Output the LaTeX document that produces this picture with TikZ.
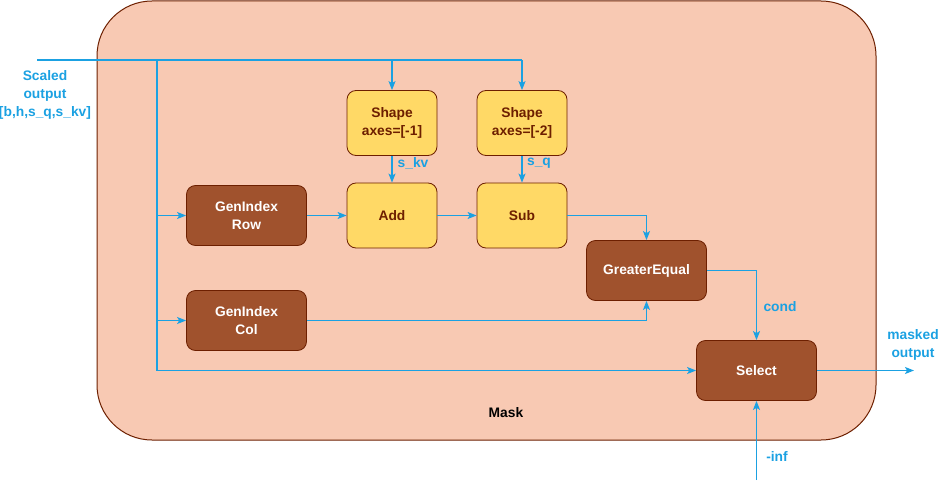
\documentclass[tikz,border=0pt]{standalone}
\usepackage{fontspec}
\setmainfont{Liberation Sans}
\usetikzlibrary{arrows.meta}
\definecolor{cont}{HTML}{F8C9B3}
\definecolor{contline}{HTML}{6D1F00}
\definecolor{brownbox}{HTML}{A0522D}
\definecolor{yelbox}{HTML}{FFD966}
\definecolor{wire}{HTML}{1BA1E2}
\tikzset{
  brownnode/.style={draw=contline, fill=brownbox, rounded corners=9pt, minimum width=120pt, minimum height=60pt, text=white, font=\fontsize{13.8}{17.5}\selectfont\bfseries, align=center, line width=0.8pt},
  yelnode/.style={draw=contline, fill=yelbox, rounded corners=9pt, minimum width=90pt, minimum height=65pt, text=contline, font=\fontsize{13.8}{17.5}\selectfont\bfseries, align=center, line width=0.8pt},
  wirestyle/.style={draw=wire, line width=1.1pt, -{Stealth[length=9pt,width=7pt,inset=2pt]}},
  plainwire/.style={draw=wire, line width=1.1pt},
  lbl/.style={text=wire, font=\fontsize{13.8}{18}\selectfont\bfseries, align=center},
}
\begin{document}
\begin{tikzpicture}[x=1pt,y=-1pt]
\useasboundingbox (0,0) rectangle (947,489);
\node[draw=contline, fill=cont, rounded corners=55pt, minimum width=779pt, minimum height=439pt, line width=1pt] (mask) at (486.5,220.5) {};
\node[font=\fontsize{13.8}{17}\selectfont\bfseries] (masklbl) at (506,413) {Mask};

\node[yelnode] (shape1) at (392,123) {Shape\\axes=[-1]};
\node[yelnode] (shape2) at (522,123) {Shape\\axes=[-2]};
\node[yelnode] (add) at (392,215.5) {Add};
\node[yelnode] (sub) at (522,215.5) {Sub};
\node[brownnode] (row) at (246.5,215.5) {GenIndex\\Row};
\node[brownnode] (col) at (246.5,320.5) {GenIndex\\Col};
\node[brownnode] (ge) at (646.5,270.5) {GreaterEqual};
\node[brownnode] (sel) at (756.5,370.5) {Select};

\coordinate (in) at (37,60);
\coordinate (ninf) at (756.5,480);
\coordinate (out) at (914,370.5);

\node[lbl] (inlbl) at (45,95) {Scaled\\output\\{[b,h,s\_q,s\_kv]}};
\node[lbl] (outlbl) at (913,345) {masked\\output};
\node[lbl] (inflbl) at (777,456) {-inf};
\node[lbl] (condlbl) at (780,307) {cond};
\node[lbl] (skv) at (413,163) {s\_kv};
\node[lbl] (sq) at (539,163) {s\_q};

\draw[plainwire] (in) -- (shape2.north |- in);
\draw[wirestyle] (shape1.north |- in) -- (shape1.north);
\draw[wirestyle] (shape2.north |- in) -- (shape2.north);
\draw[plainwire] (157,60) -- (157,370.5);
\draw[wirestyle] (157,215.5) -- (row.west);
\draw[wirestyle] (157,320.5) -- (col.west);
\draw[wirestyle] (157,370.5) -- (sel.west);
\draw[wirestyle] (shape1) -- (add);
\draw[wirestyle] (shape2) -- (sub);
\draw[wirestyle] (row) -- (add);
\draw[wirestyle] (add) -- (sub);
\draw[wirestyle] (sub.east) -| (ge.north);
\draw[wirestyle] (col.east) -| (ge.south);
\draw[wirestyle] (ge.east) -| (sel.north);
\draw[wirestyle] (ninf) -- (sel.south);
\draw[wirestyle] (sel.east) -- (out);
\end{tikzpicture}
\end{document}
